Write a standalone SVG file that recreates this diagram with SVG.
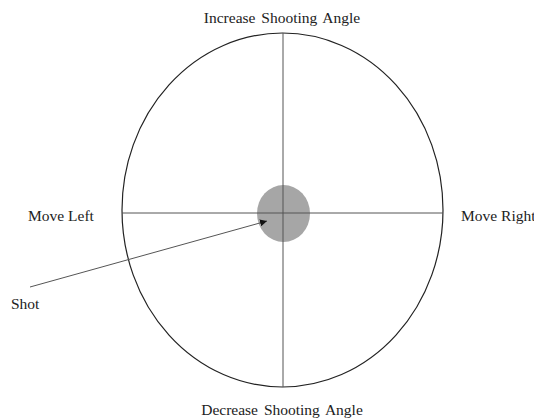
<svg xmlns="http://www.w3.org/2000/svg" width="534" height="420" viewBox="0 0 534 420">
<style>
text{font-family:"Liberation Serif","Times New Roman",serif;font-size:15.5px;fill:#222}
.ln{stroke:#555;stroke-width:1;fill:none}
</style>
<defs>
<marker id="ah" viewBox="0 0 10 10" refX="10" refY="5" markerWidth="7" markerHeight="7" orient="auto" markerUnits="userSpaceOnUse">
<path d="M0,0 L10,5 L0,10 z" fill="#111"/>
</marker>
</defs>
<rect width="534" height="420" fill="#fff"/>
<g id="target">
<ellipse cx="282.5" cy="210" rx="160.5" ry="177" fill="none" stroke="#222" stroke-width="1.2"/>
<ellipse cx="283.5" cy="213.5" rx="26.5" ry="28.5" fill="#a6a6a6"/>
</g>
<g id="connectors">
<line class="ln" x1="122" y1="213" x2="443" y2="213"/>
<line class="ln" x1="283" y1="33" x2="283" y2="387"/>
<line x1="30" y1="287" x2="267" y2="221" stroke="#555" stroke-width="1" marker-end="url(#ah)"/>
</g>
<g id="labels">
<text x="282" y="23" text-anchor="middle" word-spacing="2">Increase Shooting Angle</text>
<text x="282" y="415" text-anchor="middle" word-spacing="2">Decrease Shooting Angle</text>
<text x="28" y="221">Move Left</text>
<text x="461" y="221">Move Right</text>
<text x="11" y="309">Shot</text>
</g>
</svg>
